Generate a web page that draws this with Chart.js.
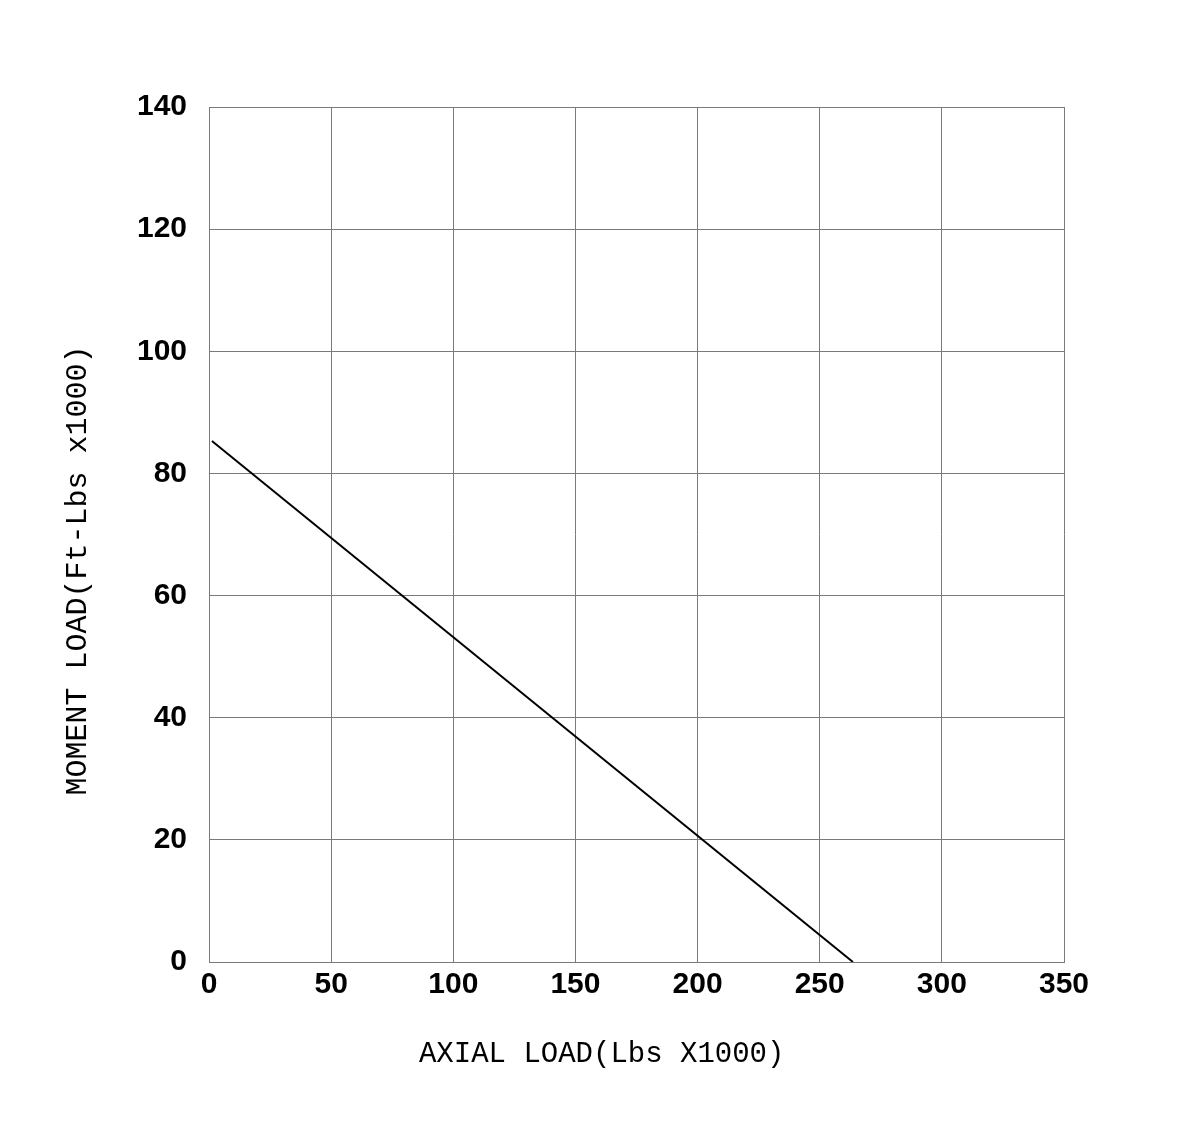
<!DOCTYPE html>
<html lang="en">
<head>
    <meta charset="UTF-8">
    <title>Moment Load vs Axial Load</title>
    <script src="https://cdn.jsdelivr.net/npm/chart.js"></script>
    <style>
        body { margin: 0; background: #fff; }
        #wrap { width: 1192px; height: 1124px; }
    </style>
</head>
<body>
    <div id="wrap"><canvas id="chart"></canvas></div>
    <script>
        const axialLoad = [1.2, 263.6];
        const momentLoad = [85.3, 0];
        const xTicks = [0, 50, 100, 150, 200, 250, 300, 350];
        const yTicks = [0, 20, 40, 60, 80, 100, 120, 140];

        const tickFont = { family: "'Liberation Sans Narrow', 'Arial Narrow', 'Liberation Sans', sans-serif", size: 30, weight: 'bold' };
        const gridColor = '#7a7a7a';

        new Chart(document.getElementById('chart'), {
            type: 'scatter',
            data: {
                datasets: [{
                    data: axialLoad.map((x, i) => ({ x: x, y: momentLoad[i] })),
                    showLine: true,
                    borderColor: '#000',
                    borderWidth: 2,
                    pointRadius: 0
                }]
            },
            options: {
                responsive: true,
                maintainAspectRatio: false,
                animation: false,
                layout: { padding: { top: 107, right: 128, bottom: 52, left: 60 } },
                plugins: { legend: { display: false }, tooltip: { enabled: false } },
                scales: {
                    x: {
                        type: 'linear', min: 0, max: 350,
                        afterBuildTicks: s => { s.ticks = xTicks.map(v => ({ value: v })); },
                        afterFit: s => { s.height = 110; },
                        grid: { color: gridColor, lineWidth: 1, drawTicks: false },
                        border: { color: gridColor, width: 1 },
                        ticks: { color: '#000', font: tickFont, padding: 5, maxRotation: 0, autoSkip: false },
                        // trailing spaces nudge the titles off-centre like the original
                        title: { display: true, text: 'AXIAL LOAD(Lbs X1000)    ', color: '#000',
                                 font: { family: "'Liberation Mono', monospace", size: 29 }, padding: 0 }
                    },
                    y: {
                        type: 'linear', min: 0, max: 140,
                        afterBuildTicks: s => { s.ticks = yTicks.map(v => ({ value: v })); },
                        afterFit: s => { s.width = 149; },
                        grid: { color: gridColor, lineWidth: 1, drawTicks: false },
                        border: { color: gridColor, width: 1 },
                        ticks: { color: '#000', font: tickFont, padding: 22, autoSkip: false },
                        title: { display: true, text: 'MOMENT LOAD(Ft-Lbs x1000)    ', color: '#000',
                                 font: { family: "'Liberation Mono', monospace", size: 30 }, padding: 0 }
                    }
                }
            }
        });
    </script>
</body>
</html>
